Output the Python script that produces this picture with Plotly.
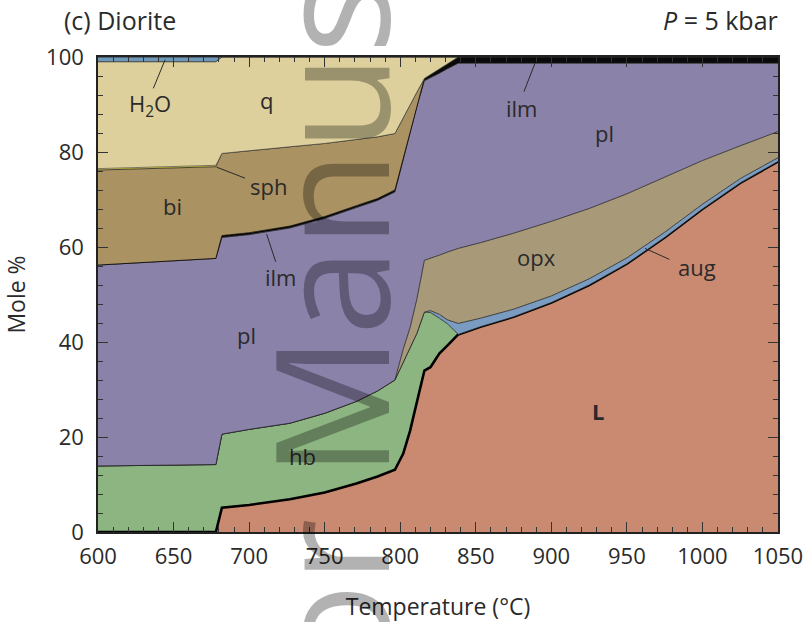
import plotly.graph_objects as go

# Temperature grid (°C)
T = [600, 678, 682, 700, 727, 750, 771, 785, 796.5, 802, 806.5, 811, 816,
     820, 826, 831, 838.4, 853, 875, 900, 925, 950, 975, 1000, 1025, 1050]

# Phase proportions (mole %), stacked from bottom
L = [0, 0, 5.1, 5.7, 6.9, 8.3, 10.2, 11.7, 13.1, 16.5, 21.3, 27.6, 34.0,
     34.7, 37.6, 39.2, 41.6, 43.2, 45.3, 48.3, 52.0, 56.5, 62.0, 68.0, 73.5, 78.0]
hb = [13.9, 14.2, 15.5, 15.9, 16.0, 16.7, 17.3, 18.0, 18.9, 19.1, 17.2, 14.2, 12.3,
      11.5, 7.4, 4.7, 0, 0, 0, 0, 0, 0, 0, 0, 0, 0]
aug = [0, 0, 0, 0, 0, 0, 0, 0, 0, 0, 0, 0, 0,
       0.4, 0.8, 0.8, 2.3, 1.8, 1.6, 1.4, 1.3, 1.2, 1.1, 1.0, 0.9, 0.8]
opx = [0, 0, 0, 0, 0, 0, 0, 0, 0, 2.9, 4.5, 7.2, 10.9,
       11.0, 12.5, 14.2, 15.8, 15.9, 16.0, 15.7, 14.8, 13.5, 11.6, 9.2, 6.9, 5.5]
pl = [42.3, 43.4, 41.4, 41.0, 41.1, 41.0, 40.8, 40.1, 39.6, 39.8, 41.0, 40.6, 37.8,
      38.0, 38.3, 38.6, 39.0, 37.8, 35.8, 33.3, 30.6, 27.5, 24.0, 20.5, 17.4, 14.4]
ilm = [0, 0, 0.4, 0.4, 0.4, 0.4, 0.4, 0.4, 0.4, 0.4, 0.4, 0.4, 0.5,
       0.7, 0.8, 0.9, 1.3, 1.3, 1.3, 1.3, 1.3, 1.3, 1.3, 1.3, 1.3, 1.3]
bi = [20.0, 19.3, 17.3, 17.2, 16.7, 15.4, 13.9, 13.0, 11.9, 8.6, 5.5, 2.6, 0,
      0, 0, 0, 0, 0, 0, 0, 0, 0, 0, 0, 0, 0]
sph = [0.3, 0.3, 0, 0, 0, 0, 0, 0, 0, 0, 0, 0, 0,
       0, 0, 0, 0, 0, 0, 0, 0, 0, 0, 0, 0, 0]
q = [22.5, 21.8, 20.3, 19.8, 18.9, 18.2, 17.4, 16.8, 16.1, 12.7, 10.1, 7.4, 4.5,
     3.7, 2.6, 1.6, 0, 0, 0, 0, 0, 0, 0, 0, 0, 0]
H2O = [1.0, 1.0, 0, 0, 0, 0, 0, 0, 0, 0, 0, 0, 0,
       0, 0, 0, 0, 0, 0, 0, 0, 0, 0, 0, 0, 0]

x_ticks = [600, 650, 700, 750, 800, 850, 900, 950, 1000, 1050]
y_ticks = [0, 20, 40, 60, 80, 100]

phases = [
    ("L", L, "#c98a71", 2.6, "#000000"),
    ("hb", hb, "#8db582", 0.8, "#222222"),
    ("aug", aug, "#7b9cc2", 0.8, "#222222"),
    ("opx", opx, "#a89a78", 0.8, "#222222"),
    ("pl", pl, "#8a82a9", 0.8, "#222222"),
    ("ilm", ilm, "#0a0a0a", 0.8, "#000000"),
    ("bi", bi, "#ab9262", 0.8, "#222222"),
    ("sph", sph, "#e3d23c", 0.6, "#333333"),
    ("q", q, "#ddd09d", 0.8, "#222222"),
    ("H2O", H2O, "#6f97b6", 0.8, "#222222"),
]

# Label positions (T, mole %) and text
label_text = ["H<sub>2</sub>O", "q", "sph", "bi", "ilm", "pl", "hb",
              "ilm", "pl", "opx", "aug", "<b>L</b>"]
label_T = [634.5, 711.5, 712.5, 649.5, 720.5, 698.5, 735.5,
           880.5, 935.0, 890.0, 996.5, 931.0]
label_M = [89.8, 91.0, 72.8, 68.6, 53.7, 41.5, 16.0,
           89.3, 84.0, 57.9, 55.8, 25.5]

# Leader lines (T0, M0, T1, M1)
leader_T0 = [636.6, 678.5, 711.6, 889.2, 962.0]
leader_M0 = [93.4, 76.8, 62.7, 98.7, 59.7]
leader_T1 = [644.4, 697.3, 717.6, 881.9, 978.1]
leader_M1 = [99.4, 74.5, 56.9, 92.7, 57.4]

FONT = "Open Sans, Noto Sans, sans-serif"
TXT = "#2a2a2a"
FS = 22

fig = go.Figure()
for name, vals, color, lw, lc in phases:
    fig.add_trace(go.Scatter(
        x=T, y=vals, name=name, mode="lines", stackgroup="one",
        fillcolor=color, line=dict(color=lc, width=lw),
        hoverinfo="x+y+name", showlegend=False,
    ))

annotations = []
for t, m, s in zip(label_T, label_M, label_text):
    annotations.append(dict(x=t, y=m, xref="x", yref="y", text=s, showarrow=False,
                            font=dict(family=FONT, size=FS, color=TXT)))

annotations.append(dict(x=0, y=1, xref="paper", yref="paper", xshift=-36, yshift=37,
                        text="(c) Diorite", showarrow=False, xanchor="left",
                        yanchor="middle", font=dict(family=FONT, size=25, color=TXT)))
annotations.append(dict(x=1, y=1, xref="paper", yref="paper", xshift=2, yshift=37,
                        text="<i>P</i> = 5 kbar", showarrow=False, xanchor="right",
                        yanchor="middle", font=dict(family=FONT, size=25, color=TXT)))

# Watermark
annotations.append(dict(x=0.337, y=0.41, xref="paper", yref="paper",
                        text="Author Manuscript", textangle=-90, showarrow=False,
                        xanchor="center", yanchor="middle",
                        font=dict(family=FONT, size=158, color="rgba(0,0,0,0.3)")))

shapes = []
for a, b, c, d in zip(leader_T0, leader_M0, leader_T1, leader_M1):
    shapes.append(dict(type="line", x0=a, y0=b, x1=c, y1=d, xref="x", yref="y",
                       line=dict(color=TXT, width=1)))

tick_common = dict(ticks="inside", ticklen=10, tickwidth=1, tickcolor="#333",
                   showline=True, linecolor="#222", linewidth=1.5,
                   showgrid=False, zeroline=False, automargin=False)

fig.update_layout(
    width=807, height=622,
    margin=dict(l=98, r=29, t=57, b=90, autoexpand=False),
    paper_bgcolor="white", plot_bgcolor="white",
    font=dict(family=FONT, size=FS, color=TXT),
    annotations=annotations, shapes=shapes,
    xaxis=dict(range=[600, 1050], tickmode="array", tickvals=x_ticks,
               minor=dict(dtick=10, ticks="inside", ticklen=5, tickwidth=1, tickcolor="#333"),
               ticklabelstandoff=4,
               tickfont=dict(family=FONT, size=FS, color=TXT),
               title=dict(text="Temperature (°C)", standoff=30,
                          font=dict(family=FONT, size=23, color=TXT)),
               **tick_common),
    yaxis=dict(range=[0, 100], tickmode="array", tickvals=y_ticks,
               minor=dict(dtick=4, ticks="inside", ticklen=5, tickwidth=1, tickcolor="#333"),
               ticklabelstandoff=8,
               tickfont=dict(family=FONT, size=FS, color=TXT),
               title=dict(text="Mole %", standoff=20,
                          font=dict(family=FONT, size=23, color=TXT)),
               **tick_common),
    xaxis2=dict(range=[600, 1050], overlaying="x", side="top", tickmode="array",
                tickvals=x_ticks, showticklabels=False,
                minor=dict(dtick=10, ticks="inside", ticklen=5, tickwidth=1, tickcolor="#333"),
                **tick_common),
    yaxis2=dict(range=[0, 100], overlaying="y", side="right", tickmode="array",
                tickvals=y_ticks, showticklabels=False,
                minor=dict(dtick=4, ticks="inside", ticklen=5, tickwidth=1, tickcolor="#333"),
                **tick_common),
)

# invisible trace so the mirrored top/right axes are drawn
fig.add_trace(go.Scatter(x=[600], y=[0], xaxis="x2", yaxis="y2", mode="markers",
                         marker=dict(opacity=0), hoverinfo="skip", showlegend=False))

fig.write_html("out.html", config={"displayModeBar": False},
               post_script="document.body.style.margin='0';document.body.style.overflow='hidden';")
